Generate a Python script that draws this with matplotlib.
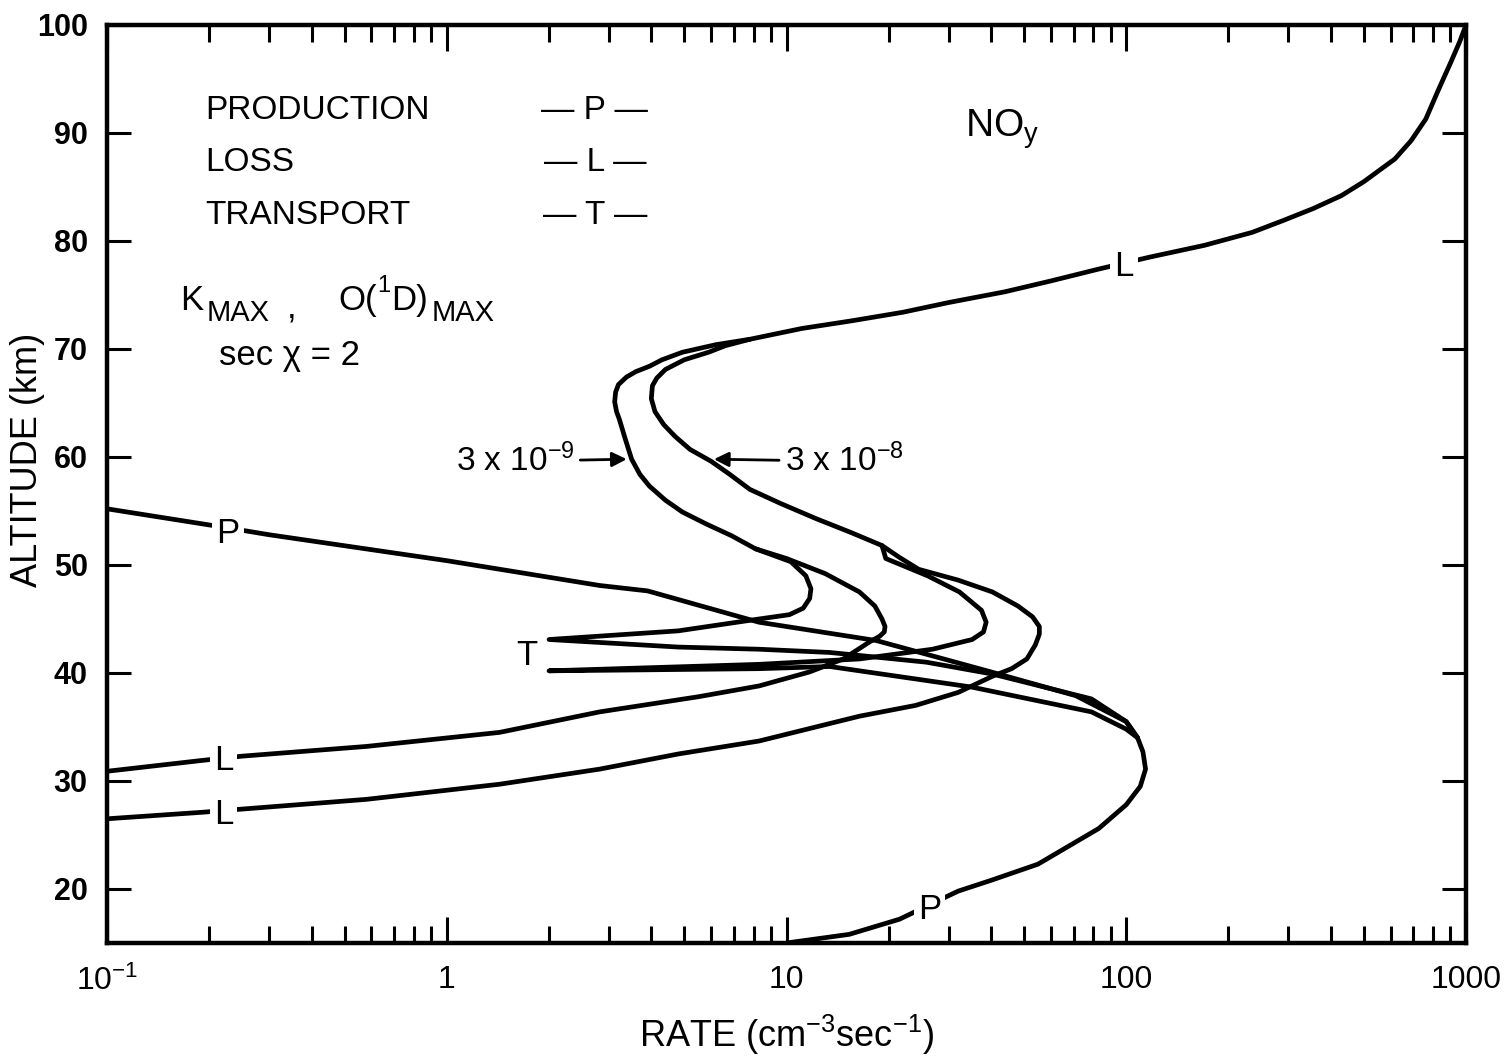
import numpy as np
import matplotlib
matplotlib.use('Agg')
import matplotlib.pyplot as plt

plt.rcParams['font.family'] = ['Liberation Sans', 'DejaVu Sans']
plt.rcParams['mathtext.fontset'] = 'custom'
plt.rcParams['mathtext.rm'] = 'Liberation Sans'
plt.rcParams['mathtext.it'] = 'Liberation Sans:italic'

# 讀圖估計的數據 (rate, altitude km)
# 上層共用的 L 曲線 (兩種 K 值重合)
l_top_x = [1000, 960, 904, 830, 762, 690, 618, 501, 430, 355, 290, 235, 170, 117, 83, 60, 44, 30, 22, 15.5, 11.1, 7.8]
l_top_alt = [100, 98.5, 96.6, 94.0, 91.3, 89.3, 87.6, 85.5, 84.2, 83.0, 81.9, 80.8, 79.6, 78.5, 77.4, 76.3, 75.3, 74.3, 73.4, 72.6, 71.9, 70.9]

# K = 3e-9 的 loss
la_x = [7.8, 6.2, 4.94, 4.3, 3.95, 3.6, 3.38, 3.2, 3.14, 3.12, 3.16, 3.22, 3.35, 3.5, 3.7, 3.95, 4.4, 4.94, 5.8, 6.9, 8.1,
        10.0, 13.0, 16.4, 18.2, 19.1, 19.5, 19.4, 18.8, 17.6, 14.7, 11.7, 8.3, 5.5, 2.82, 1.43, 0.58, 0.25, 0.19, 0.1]
la_alt = [70.9, 70.4, 69.7, 69.0, 68.4, 67.9, 67.4, 66.7, 66.0, 65.1, 64.2, 63.5, 61.7, 59.8, 58.4, 57.3, 56.0, 54.9, 53.8, 52.7, 51.5,
          50.6, 49.2, 47.5, 46.2, 45.0, 44.3, 43.8, 43.4, 42.9, 41.3, 40.1, 38.8, 37.8, 36.4, 34.5, 33.2, 32.3, 31.9, 30.9]

# K = 3e-8 的 loss
lb_x = [7.8, 6.6, 5.9, 5.0, 4.4, 4.15, 4.03, 4.0, 4.1, 4.35, 4.7, 5.2, 6.0, 6.8, 7.8, 9.6, 12.2, 15.5, 19.1,
        21.5, 24.5, 32, 40.4, 48, 53, 55.5, 55.5, 54, 51, 46, 40.4, 32, 24, 16.4, 8.3, 4.8, 2.82, 1.43, 0.58, 0.25, 0.19, 0.1]
lb_alt = [70.9, 70.3, 69.7, 69.0, 68.1, 67.3, 66.6, 65.4, 64.2, 63.0, 61.9, 60.7, 59.6, 58.4, 57.0, 55.7, 54.3, 53.0, 51.8,
          50.7, 49.6, 48.6, 47.5, 46.2, 45.2, 44.3, 43.6, 42.6, 41.3, 40.4, 39.7, 38.2, 37.0, 36.0, 33.7, 32.5, 31.1, 29.7, 28.3, 27.4, 27.1, 26.5]

# K = 3e-9 的 transport
ta_x = [8.1, 10.3, 11.4, 11.8, 11.7, 11.2, 10.2, 8.3, 4.8, 2.0, 4.8, 8.3, 13.4, 25.8, 40.4, 79, 100, 108]
ta_alt = [51.5, 50.3, 49.0, 47.8, 46.9, 46.0, 45.4, 45.0, 43.9, 43.1, 42.4, 42.2, 41.9, 41.0, 39.9, 37.6, 35.5, 34.0]

# K = 3e-8 的 transport
tb_x = [19.1, 19.6, 26, 32.3, 37.5, 38.7, 38.0, 35.2, 26.9, 16.4, 8.3, 2.0, 8.3, 13.4, 35, 79, 100, 108]
tb_alt = [51.8, 50.6, 49.0, 47.5, 45.8, 44.7, 43.8, 43.1, 42.2, 41.3, 40.8, 40.2, 40.4, 40.6, 38.7, 36.4, 34.8, 34.0]

# production
p_x = [0.1, 0.22, 0.3, 1.0, 2.82, 3.9, 8.3, 18.4, 40, 71, 100, 108, 112, 114, 110, 100, 83, 55, 40, 32, 21.5, 15.3, 10]
p_alt = [55.2, 53.5, 52.8, 50.4, 48.1, 47.6, 44.7, 43.0, 40.1, 37.9, 35.5, 34.0, 32.7, 31.1, 29.5, 27.8, 25.6, 22.3, 20.8, 19.8, 17.2, 15.8, 15.0]

# 曲線標籤 (字, x, 高度)
curve_labels = [('P', 0.227, 52.9), ('P', 26.4, 18.1), ('L', 98.6, 77.6),
                ('L', 0.22, 31.9), ('L', 0.22, 26.9), ('T', 1.72, 41.6)]

x_ticks = [0.1, 1, 10, 100, 1000]
x_tick_labels = [r'$10^{-1}$', '1', '10', '100', '1000']
y_ticks = [20, 30, 40, 50, 60, 70, 80, 90, 100]

fig = plt.figure(figsize=(15.06, 10.63), dpi=100)
ax = fig.add_axes([0.0711, 0.1129, 0.9023, 0.8636])

lw = 3.4
for xs, ys in [(l_top_x, l_top_alt), (la_x, la_alt), (lb_x, lb_alt),
               (ta_x, ta_alt), (tb_x, tb_alt), (p_x, p_alt)]:
    ax.plot(xs, ys, color='black', lw=lw, solid_capstyle='round', solid_joinstyle='round')

for s, x, y in curve_labels:
    ax.text(x, y, s, fontsize=25, ha='center', va='center', zorder=5,
            bbox=dict(facecolor='white', edgecolor='none', pad=3))

ax.set_xscale('log')
ax.set_xlim(0.1, 1000)
ax.set_ylim(15, 100)

ax.set_xticks(x_ticks)
ax.set_xticklabels(x_tick_labels, fontsize=23)
ax.set_yticks(y_ticks)
ax.set_yticklabels([str(v) for v in y_ticks], fontsize=22, fontweight='bold')
ax.xaxis.set_minor_locator(matplotlib.ticker.LogLocator(base=10, subs=np.arange(2, 10), numticks=20))
ax.xaxis.set_minor_formatter(matplotlib.ticker.NullFormatter())

ax.tick_params(axis='x', which='major', direction='in', length=19, width=2.2, top=True, pad=16)
ax.tick_params(axis='x', which='minor', direction='in', length=12, width=2.2, top=True)
ax.tick_params(axis='y', which='major', direction='in', length=17, width=2.2, right=True, pad=14)
for sp in ax.spines.values():
    sp.set_linewidth(3.2)

ax.set_xlabel(r'RATE (cm$^{-3}$sec$^{-1}$)', fontsize=26)
ax.xaxis.set_label_coords(0.5, -0.076)
ax.set_ylabel('ALTITUDE (km)', fontsize=26)
ax.yaxis.set_label_coords(-0.046, 0.526)

# 圖例文字
ax.text(0.072, 0.907, 'PRODUCTION', transform=ax.transAxes, fontsize=24, va='center')
ax.text(0.072, 0.850, 'LOSS', transform=ax.transAxes, fontsize=24, va='center')
ax.text(0.072, 0.793, 'TRANSPORT', transform=ax.transAxes, fontsize=24, va='center')
for s, yy in [('P', 0.907), ('L', 0.850), ('T', 0.793)]:
    ax.text(0.359, yy, '\u2014 ' + s + ' \u2014', transform=ax.transAxes, fontsize=24,
            va='center', ha='center')

# K_MAX , O(1D)_MAX 分段排字
ax.text(0.054, 0.700, 'K', transform=ax.transAxes, fontsize=25, va='center')
ax.text(0.073, 0.686, 'MAX', transform=ax.transAxes, fontsize=21, va='center')
ax.text(0.132, 0.692, ',', transform=ax.transAxes, fontsize=25, va='center')
ax.text(0.170, 0.700, 'O(', transform=ax.transAxes, fontsize=25, va='center')
ax.text(0.199, 0.716, '1', transform=ax.transAxes, fontsize=17, va='center')
ax.text(0.209, 0.700, 'D)', transform=ax.transAxes, fontsize=25, va='center')
ax.text(0.239, 0.686, 'MAX', transform=ax.transAxes, fontsize=21, va='center')
ax.text(0.082, 0.640, 'sec \u03c7 = 2', transform=ax.transAxes, fontsize=25, va='center')
ax.text(0.631, 0.886, r'NO$_{\mathrm{y}}$', transform=ax.transAxes, fontsize=28, va='center')

# 箭頭標示
ax.annotate(r'3 x 10$^{-9}$', xy=(3.45, 59.8), xytext=(2.38, 59.6), fontsize=24,
            ha='right', va='center',
            arrowprops=dict(arrowstyle='-|>', color='black', lw=2, mutation_scale=22))
ax.annotate(r'3 x 10$^{-8}$', xy=(6.0, 59.8), xytext=(9.87, 59.6), fontsize=24,
            ha='left', va='center',
            arrowprops=dict(arrowstyle='-|>', color='black', lw=2, mutation_scale=22))

fig.savefig('out.png', dpi=100)
